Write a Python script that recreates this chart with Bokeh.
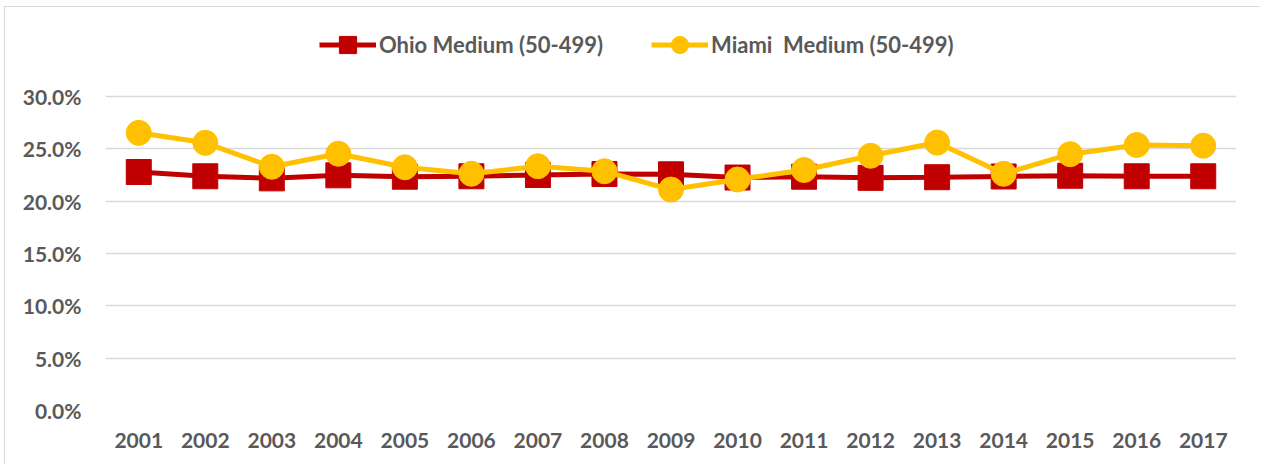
from bokeh.plotting import figure
from bokeh.models import Legend, LegendItem, FixedTicker, PrintfTickFormatter, Range1d
from bokeh.embed import file_html
from bokeh.resources import INLINE

years = list(range(2001, 2018))
ohio = [22.79, 22.38, 22.18, 22.47, 22.34, 22.38, 22.50, 22.60, 22.57, 22.26,
        22.34, 22.23, 22.29, 22.36, 22.43, 22.38, 22.38]
miami = [26.53, 25.58, 23.29, 24.53, 23.24, 22.62, 23.34, 22.86, 21.11, 22.07,
         22.98, 24.34, 25.60, 22.62, 24.49, 25.37, 25.30]
y_ticks = [0, 5, 10, 15, 20, 25, 30]
ohio_label = "Ohio Medium (50-499)"
miami_label = "Miami  Medium (50-499)"

RED = "#C00000"
YEL = "#FFC000"
TXT = "#595959"
FONT = "Lato"

# y range extends above 30% to leave room for the legend inside the frame
p = figure(width=1256, height=458, output_backend="svg", toolbar_location=None,
           x_range=Range1d(2000.5, 2017.5), y_range=Range1d(0, 37.36),
           min_border_left=100, min_border_right=25, min_border_top=12,
           min_border_bottom=55)
p.margin = (6, 0, 0, 4)
p.styles = {"border-left": "1px solid #D9D9D9", "border-top": "1px solid #D9D9D9"}
p.outline_line_color = None

r1l = p.line(years, ohio, line_color=RED, line_width=5)
r1m = p.scatter(years, ohio, marker="square", size=25, fill_color=RED, line_color=RED)
r2l = p.line(years, miami, line_color=YEL, line_width=5)
r2m = p.scatter(years, miami, marker="circle", size=25, fill_color=YEL, line_color=YEL)

p.xaxis.ticker = FixedTicker(ticks=years)
p.yaxis.ticker = FixedTicker(ticks=y_ticks)
p.yaxis.formatter = PrintfTickFormatter(format="%.1f%%")
for ax in (p.xaxis, p.yaxis):
    ax.axis_line_color = None
    ax.major_tick_line_color = None
    ax.minor_tick_line_color = None
    ax.major_label_text_font = FONT
    ax.major_label_text_font_style = "bold"
    ax.major_label_text_font_size = "21px"
    ax.major_label_text_color = TXT
p.xaxis.major_label_standoff = 16
p.yaxis.major_label_standoff = 18
p.xgrid.grid_line_color = None
p.ygrid.grid_line_color = "#D9D9D9"
p.ygrid.grid_line_width = 1.5

def mk_legend(items, x):
    lg = Legend(items=items, location=(x, 344), orientation="horizontal",
                padding=0, margin=0, glyph_width=57, glyph_height=43,
                label_height=43, label_standoff=3, border_line_color=None,
                background_fill_alpha=0,
                label_text_font=FONT, label_text_font_style="bold",
                label_text_font_size="22px", label_text_color=TXT)
    p.add_layout(lg, "center")

mk_legend([LegendItem(label=ohio_label, renderers=[r1l, r1m])], 214)
mk_legend([LegendItem(label=miami_label, renderers=[r2l, r2m])], 546)

open("out.html", "w").write(file_html(p, INLINE))
